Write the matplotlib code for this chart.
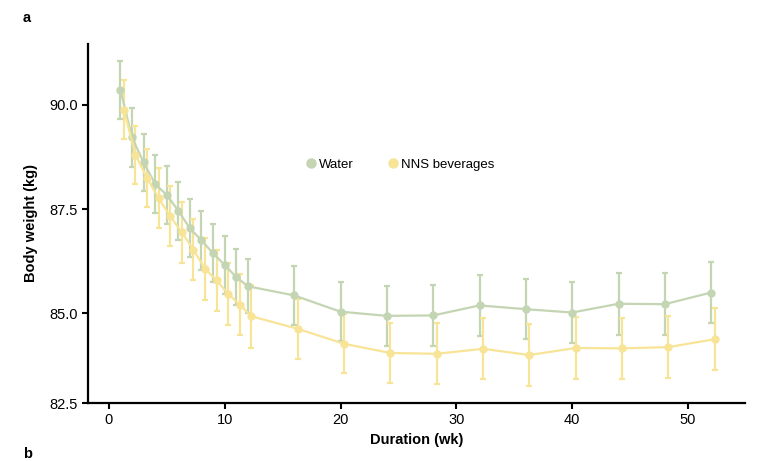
import matplotlib
matplotlib.use("Agg")
from matplotlib import pyplot as plt
import numpy as np

plt.rcParams['font.family'] = ['Liberation Sans', 'DejaVu Sans']

weeks = [1, 2, 3, 4, 5, 6, 7, 8, 9, 10, 11, 12, 16, 20, 24, 28, 32, 36, 40, 44, 48, 52]

water = [90.36, 89.22, 88.62, 88.10, 87.84, 87.46, 87.04, 86.75, 86.44, 86.16, 85.87, 85.65,
         85.43, 85.04, 84.94, 84.95, 85.19, 85.10, 85.02, 85.23, 85.22, 85.50]
water_err = [0.69, 0.70, 0.68, 0.70, 0.70, 0.70, 0.70, 0.70, 0.70, 0.69, 0.67, 0.65,
             0.71, 0.71, 0.72, 0.73, 0.73, 0.72, 0.73, 0.74, 0.74, 0.74]

nns = [89.88, 88.80, 88.25, 87.76, 87.33, 86.94, 86.53, 86.07, 85.79, 85.47, 85.21, 84.93,
       84.63, 84.27, 84.05, 84.03, 84.15, 84.00, 84.17, 84.16, 84.19, 84.38]
nns_err = [0.71, 0.69, 0.70, 0.72, 0.72, 0.73, 0.73, 0.74, 0.74, 0.74, 0.74, 0.75,
           0.72, 0.71, 0.72, 0.73, 0.73, 0.74, 0.74, 0.74, 0.75, 0.75]

green = '#c4d5b3'
yellow = '#f8e497'

fig = plt.figure(figsize=(7.84, 4.61), dpi=100)
ax = fig.add_axes([0.1122, 0.1258, 0.8378, 0.7788])

x = np.array(weeks, dtype=float)
ax.errorbar(x, water, yerr=water_err, color=green, marker='o', markersize=5,
            linewidth=1.6, elinewidth=1.6, capsize=2.3, capthick=1.6, label='Water')
ax.errorbar(x + 0.3, nns, yerr=nns_err, color=yellow, marker='o', markersize=5,
            linewidth=1.6, elinewidth=1.6, capsize=2.3, capthick=1.6, label='NNS beverages')

ax.set_xlim(-1.8, 54.9)
ax.set_ylim(82.85, 91.46)
ax.set_xticks([0, 10, 20, 30, 40, 50])
ax.set_yticks([82.85, 85, 87.5, 90], labels=['82.5', '85.0', '87.5', '90.0'])
ax.tick_params(direction='out', length=4.5, width=1.5, labelsize=10.5, colors='black', pad=3)

for s in ['top', 'right']:
    ax.spines[s].set_visible(False)
for s in ['left', 'bottom']:
    ax.spines[s].set_linewidth(1.6)

ax.set_xlabel('Duration (wk)', fontsize=10.5, fontweight='bold', labelpad=4)
ax.set_ylabel('Body weight (kg)', fontsize=10.5, fontweight='bold', labelpad=8)

handles = [plt.Line2D([], [], color=green, marker='o', linestyle='none', markersize=6.5),
           plt.Line2D([], [], color=yellow, marker='o', linestyle='none', markersize=6.5)]
ax.legend(handles, ['Water', 'NNS beverages'], loc='center', bbox_to_anchor=(0.475, 0.663),
          ncol=2, frameon=False, fontsize=9.5, handlelength=0.8, handletextpad=0.2,
          columnspacing=2.6)

fig.text(0.029, 0.962, 'a', fontsize=10.5, fontweight='bold', va='center')
fig.text(0.029, 0.001, 'b', fontsize=10.5, fontweight='bold', va='bottom')

fig.savefig('out.png', dpi=100)
